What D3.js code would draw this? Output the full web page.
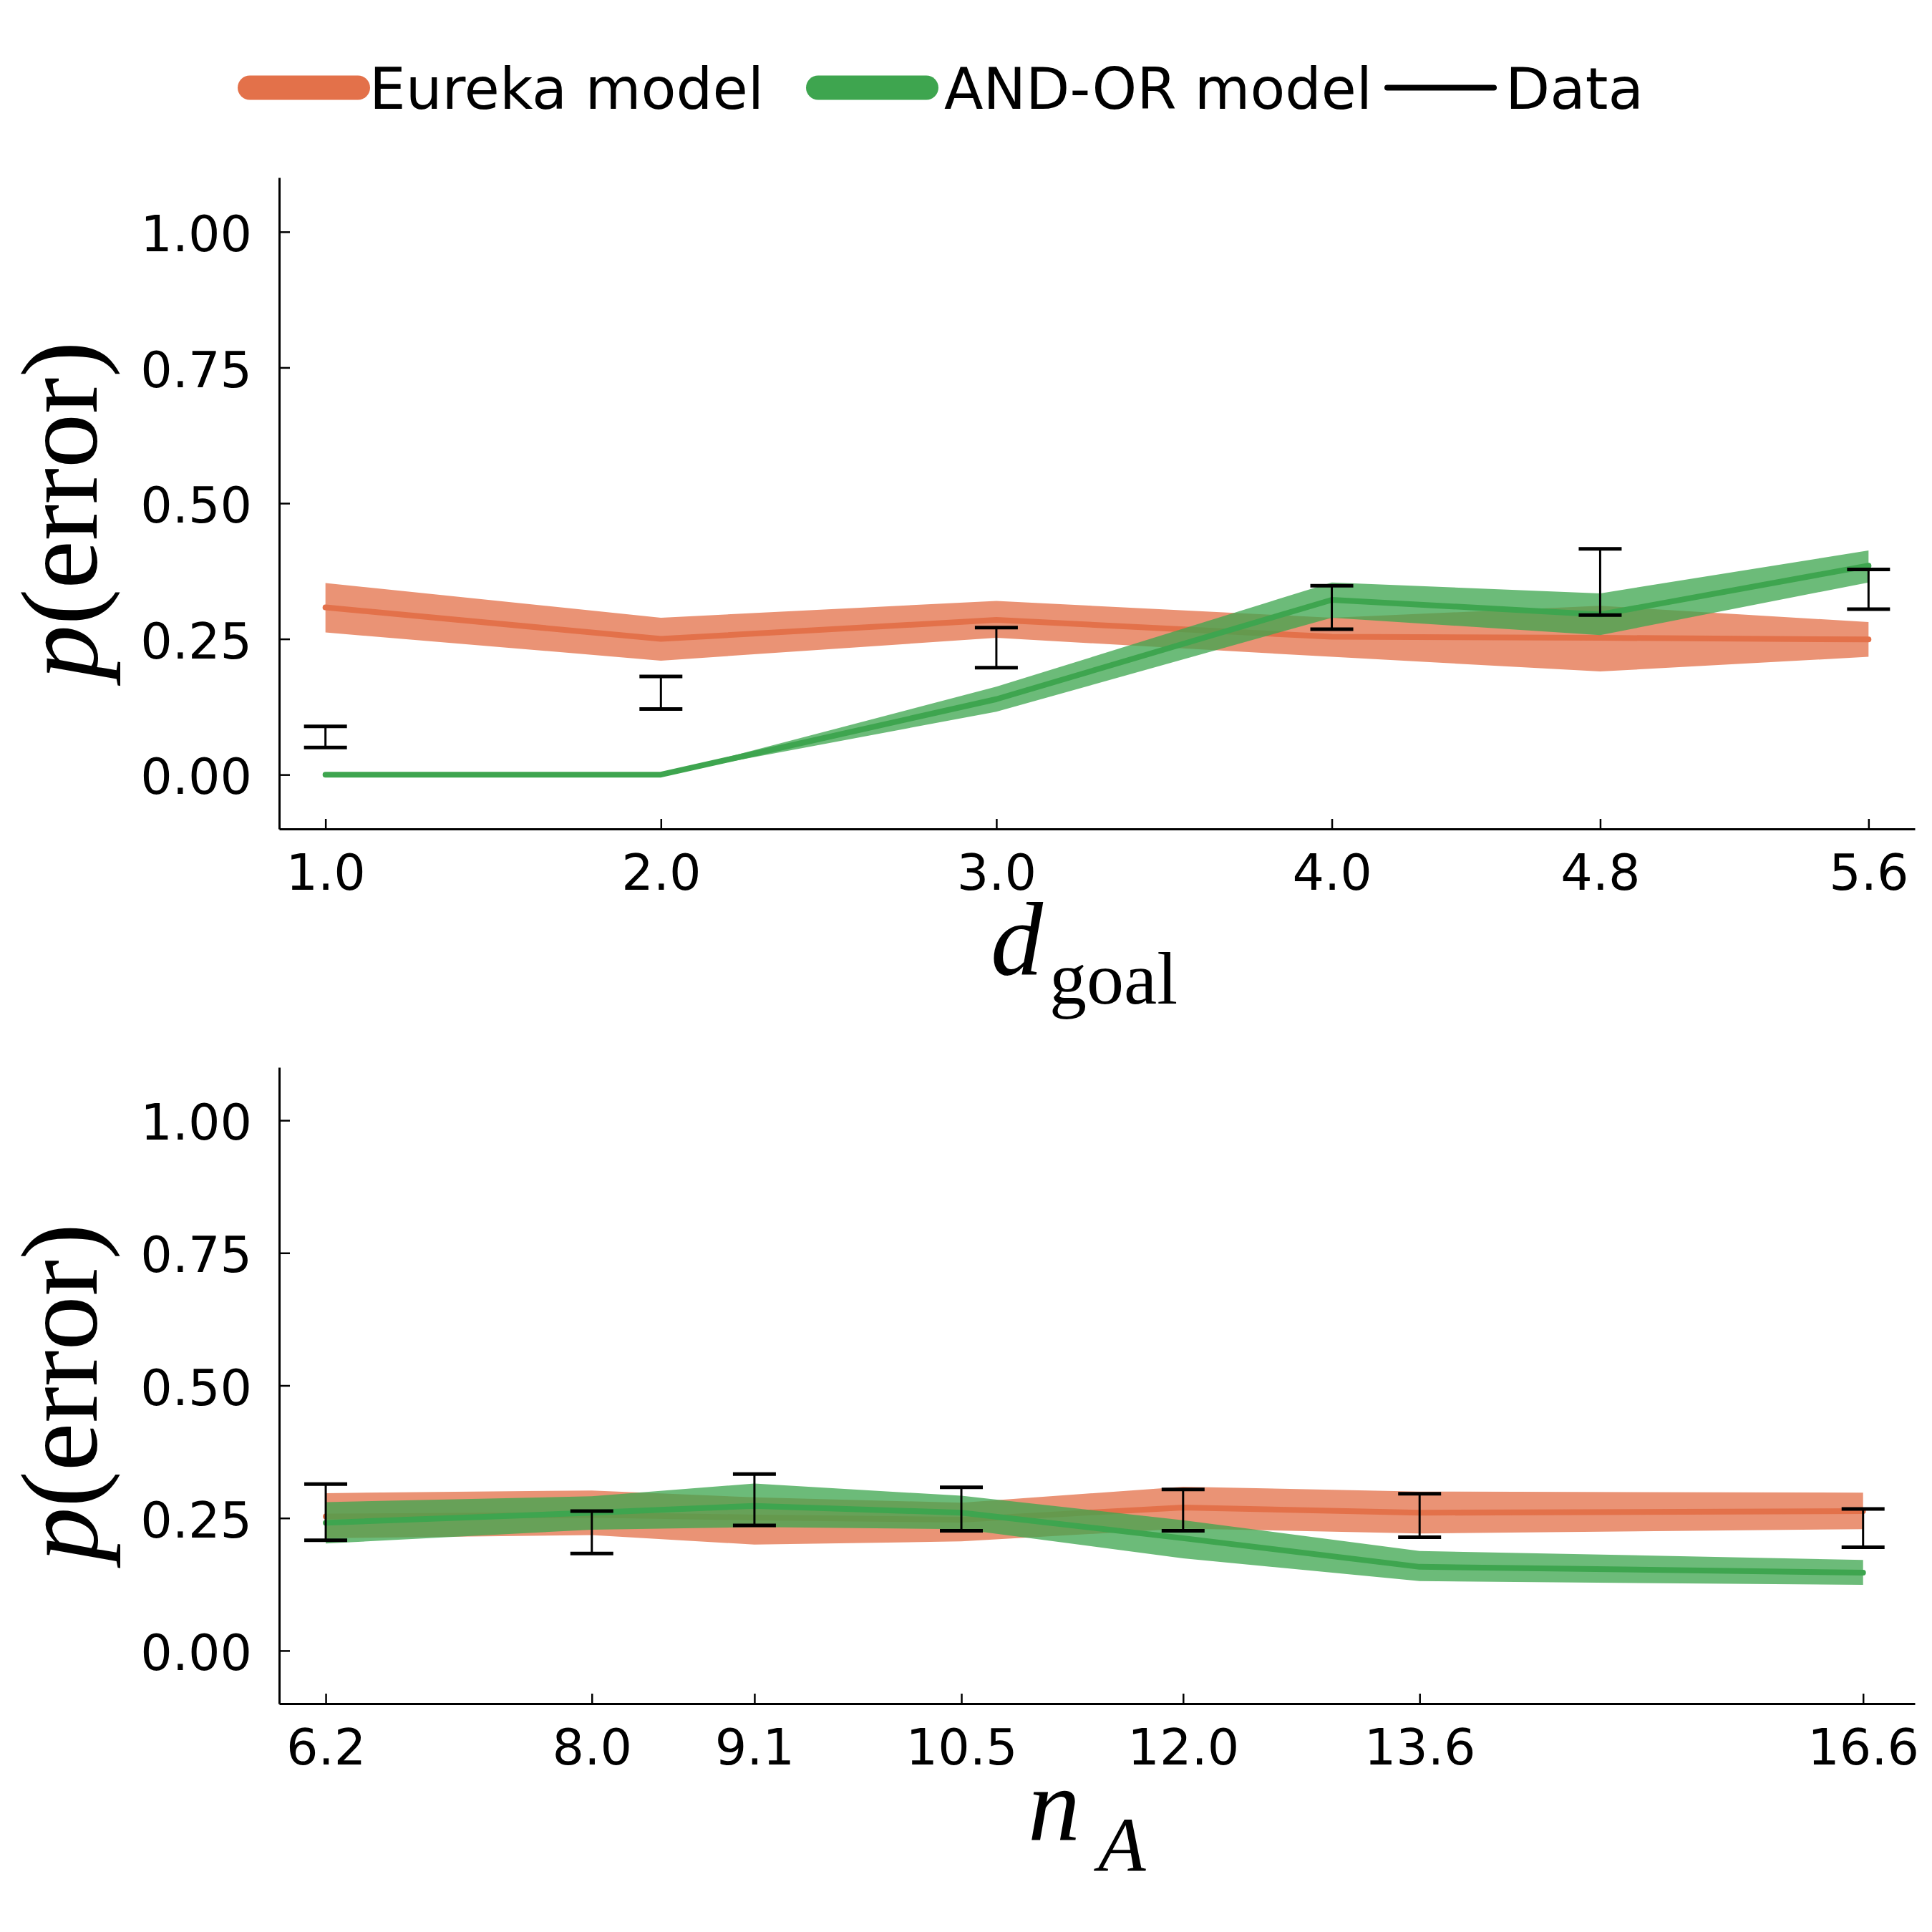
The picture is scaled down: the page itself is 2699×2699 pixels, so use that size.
<!DOCTYPE html>
<html>
<head>
<meta charset="utf-8">
<script src="https://cdn.jsdelivr.net/npm/d3@7"></script>
<style>
  body { margin: 0; background: #fff; }
  svg { display: block; background: #fff; }
</style>
</head>
<body>
<svg id="chart"></svg>
<script>
// top panel: p(error) against goal depth
const dGoal = [1.0, 2.0, 3.0, 4.0, 4.8, 5.6];
const dGoalTicks = ["1.0", "2.0", "3.0", "4.0", "4.8", "5.6"];
const eurekaDMean = [0.308, 0.250, 0.285, 0.254, 0.252, 0.249];
const eurekaDLo   = [0.262, 0.210, 0.252, 0.217, 0.190, 0.217];
const eurekaDHi   = [0.353, 0.289, 0.320, 0.289, 0.311, 0.281];
const andorDMean  = [0.000, 0.000, 0.139, 0.322, 0.295, 0.385];
const andorDLo    = [0.000, 0.000, 0.116, 0.289, 0.257, 0.354];
const andorDHi    = [0.000, 0.000, 0.162, 0.354, 0.334, 0.413];
const dataDLo     = [0.050, 0.121, 0.197, 0.268, 0.294, 0.305];
const dataDHi     = [0.089, 0.181, 0.271, 0.348, 0.416, 0.378];

// bottom panel: p(error) against n_A
const nA = [6.2, 8.0, 9.1, 10.5, 12.0, 13.6, 16.6];
const nATicks = ["6.2", "8.0", "9.1", "10.5", "12.0", "13.6", "16.6"];
const eurekaNMean = [0.253, 0.256, 0.251, 0.247, 0.270, 0.260, 0.263];
const eurekaNLo   = [0.212, 0.218, 0.200, 0.206, 0.230, 0.221, 0.229];
const eurekaNHi   = [0.297, 0.302, 0.289, 0.279, 0.309, 0.300, 0.298];
const andorNMean  = [0.241, 0.260, 0.273, 0.260, 0.212, 0.158, 0.147];
const andorNLo    = [0.202, 0.228, 0.233, 0.229, 0.174, 0.131, 0.124];
const andorNHi    = [0.280, 0.291, 0.315, 0.292, 0.246, 0.188, 0.171];
const dataNLo     = [0.208, 0.183, 0.236, 0.226, 0.226, 0.214, 0.195];
const dataNHi     = [0.314, 0.263, 0.333, 0.308, 0.304, 0.296, 0.267];

const yTicks = [0, 0.25, 0.5, 0.75, 1.0];
const legendNames = ["Eureka model", "AND-OR model", "Data"];

const svgWidth = 2699, svgHeight = 2699;
const plotLeft = 390, plotRight = 2675;
const orange = "#e3714a", green = "#3ea54f";
const sansFont = "DejaVu Sans", serifFont = "Liberation Serif";

const svg = d3.select("#chart")
  .attr("width", svgWidth)
  .attr("height", svgHeight);

function drawPanel(p) {
  const xScale = d3.scaleLinear()
    .domain(p.xDomain)
    .range([plotLeft, plotRight]);
  const yScale = d3.scaleLinear()
    .domain([-0.1, 1.1])
    .range([p.bottom, p.top]);

  const g = svg.append("g");

  const area = d3.area()
    .x((d, i) => xScale(p.x[i]))
    .y0(d => yScale(d[0]))
    .y1(d => yScale(d[1]));
  const line = d3.line()
    .x((d, i) => xScale(p.x[i]))
    .y(d => yScale(d));

  p.models.forEach(m => {
    g.append("path")
      .datum(d3.zip(m.lo, m.hi))
      .attr("d", area)
      .attr("fill", m.color)
      .attr("fill-opacity", 0.76);
    g.append("path")
      .datum(m.mean)
      .attr("d", line)
      .attr("fill", "none")
      .attr("stroke", m.color)
      .attr("stroke-width", 8)
      .attr("stroke-linecap", "round")
      .attr("stroke-linejoin", "round");
  });

  // data error bars
  const bars = g.selectAll(".err")
    .data(d3.zip(p.x, p.lo, p.hi))
    .enter()
    .append("g")
    .attr("class", "err");
  bars.append("line")
    .attr("x1", d => xScale(d[0]))
    .attr("x2", d => xScale(d[0]))
    .attr("y1", d => yScale(d[1]))
    .attr("y2", d => yScale(d[2]))
    .attr("stroke", "#000")
    .attr("stroke-width", 3);
  [1, 2].forEach(k => {
    bars.append("line")
      .attr("x1", d => xScale(d[0]) - 30)
      .attr("x2", d => xScale(d[0]) + 30)
      .attr("y1", d => yScale(d[k]))
      .attr("y2", d => yScale(d[k]))
      .attr("stroke", "#000")
      .attr("stroke-width", 5);
  });

  // axes
  const yAxis = g.append("g")
    .attr("transform", `translate(${plotLeft},0)`)
    .call(d3.axisLeft(yScale)
      .tickValues(yTicks)
      .tickFormat(d3.format(".2f"))
      .tickSizeInner(-15)
      .tickSizeOuter(0)
      .tickPadding(38));
  yAxis.selectAll("text").attr("dy", "0.38em");

  const xAxis = g.append("g")
    .attr("transform", `translate(0,${p.bottom})`)
    .call(d3.axisBottom(xScale)
      .tickValues(p.x)
      .tickFormat((d, i) => p.ticks[i])
      .tickSizeInner(-14)
      .tickSizeOuter(0)
      .tickPadding(35));

  [yAxis, xAxis].forEach(a => {
    a.attr("font-family", sansFont).attr("font-size", 70);
    a.select(".domain").attr("stroke", "#000").attr("stroke-width", 3);
    a.selectAll(".tick line").attr("stroke", "#000").attr("stroke-width", 2.5);
    a.selectAll(".tick text").attr("fill", "#000");
  });

  // y label p(error)
  const yl = svg.append("text")
    .attr("transform", `translate(135,${(p.top + p.bottom) / 2 + 10}) rotate(-90)`)
    .attr("text-anchor", "middle")
    .style("font-family", serifFont)
    .style("font-size", "152px")
    .attr("fill", "#000");
  yl.append("tspan").style("font-style", "italic").text("p");
  yl.append("tspan").text("(error)");

  // x label with subscript
  const xl = svg.append("text")
    .attr("x", p.xLabel.x)
    .attr("y", p.xLabel.y)
    .style("font-family", serifFont)
    .attr("fill", "#000");
  xl.append("tspan")
    .style("font-style", "italic")
    .style("font-size", "146px")
    .text(p.xLabel.main);
  xl.append("tspan")
    .attr("dx", p.xLabel.dx)
    .attr("dy", p.xLabel.dy)
    .style("font-style", p.xLabel.subItalic ? "italic" : "normal")
    .style("font-size", p.xLabel.subSize + "px")
    .text(p.xLabel.sub);
}

drawPanel({
  x: dGoal, ticks: dGoalTicks, top: 248, bottom: 1158,
  xDomain: [0.862, 5.738],
  models: [
    { mean: eurekaDMean, lo: eurekaDLo, hi: eurekaDHi, color: orange },
    { mean: andorDMean, lo: andorDLo, hi: andorDHi, color: green }
  ],
  lo: dataDLo, hi: dataDHi,
  xLabel: { main: "d", sub: "goal", x: 1384, y: 1362, dx: 9, dy: 40, subSize: 104, subItalic: false }
});

drawPanel({
  x: nA, ticks: nATicks, top: 1491, bottom: 2380,
  xDomain: [5.885, 16.95],
  models: [
    { mean: eurekaNMean, lo: eurekaNLo, hi: eurekaNHi, color: orange },
    { mean: andorNMean, lo: andorNLo, hi: andorNHi, color: green }
  ],
  lo: dataNLo, hi: dataNHi,
  xLabel: { main: "n", sub: "A", x: 1436, y: 2571, dx: 25, dy: 43, subSize: 109, subItalic: true }
});

// legend
const legend = svg.append("g");
const legendY = 122.5;
const swatches = [
  { x1: 349, x2: 500, color: orange, width: 34 },
  { x1: 1143, x2: 1294, color: green, width: 34 },
  { x1: 1938, x2: 2087, color: "#000", width: 8 }
];
const labelPos = [
  { x: 516, len: 551 },
  { x: 1319, len: 598 },
  { x: 2103, len: 193 }
];
legendNames.forEach((name, i) => {
  legend.append("line")
    .attr("x1", swatches[i].x1)
    .attr("x2", swatches[i].x2)
    .attr("y1", legendY)
    .attr("y2", legendY)
    .attr("stroke", swatches[i].color)
    .attr("stroke-width", swatches[i].width)
    .attr("stroke-linecap", "round");
  legend.append("text")
    .attr("x", labelPos[i].x)
    .attr("y", 151.7)
    .attr("textLength", labelPos[i].len)
    .attr("lengthAdjust", "spacingAndGlyphs")
    .style("font-family", sansFont)
    .style("font-size", "80px")
    .attr("fill", "#000")
    .text(name);
});
</script>
</body>
</html>
